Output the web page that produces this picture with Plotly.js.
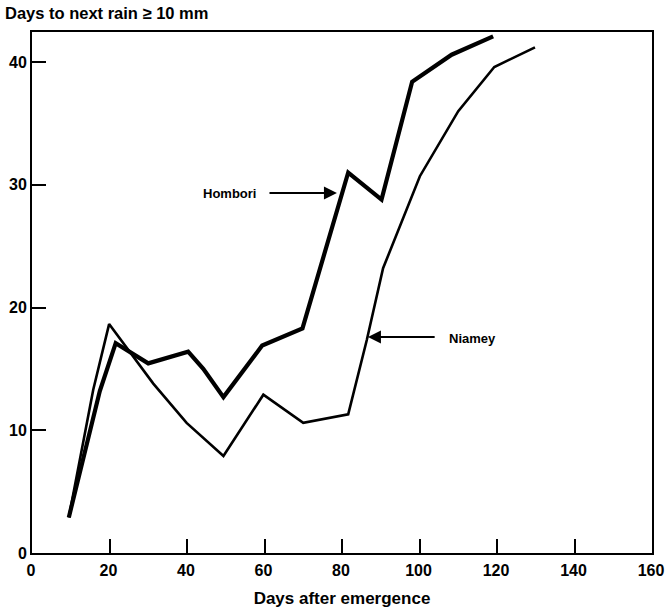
<!DOCTYPE html>
<html>
<head>
<meta charset="utf-8">
<script src="https://cdn.plot.ly/plotly-3.0.1.min.js"></script>
<style>html,body{margin:0;padding:0;background:#fff;}#chart{width:665px;height:610px;}</style>
</head>
<body>
<div id="chart"></div>
<script>
// Days after emergence (x) and days to next rain >= 10 mm (y)
const homboriDays = [9.5, 17.5, 21.6, 30.0, 40.3, 44.2, 49.4, 59.4, 69.8, 81.6, 90.2, 98.1, 108.3, 119.0];
const homboriWait = [2.9, 13.2, 17.1, 15.45, 16.4, 15.0, 12.7, 16.9, 18.3, 31.0, 28.8, 38.4, 40.6, 42.1];
const niameyDays = [9.5, 15.8, 19.9, 31.3, 39.9, 49.4, 59.7, 70.0, 81.6, 82.9, 86.4, 90.6, 100.1, 110.0, 119.3, 129.8];
const niameyWait = [2.9, 13.3, 18.65, 13.8, 10.6, 7.9, 12.9, 10.6, 11.3, 13.0, 17.35, 23.2, 30.7, 36.0, 39.6, 41.2];
const xTicks = [0, 20, 40, 60, 80, 100, 120, 140, 160];
const yTicks = [0, 10, 20, 30, 40];
const labels = ["Hombori", "Niamey"];

const font = {family: "Liberation Sans, Arial, sans-serif", color: "#000"};

const traces = [
  {x: homboriDays, y: homboriWait, mode: "lines", name: labels[0],
   line: {color: "#000", width: 4.2}},
  {x: niameyDays, y: niameyWait, mode: "lines", name: labels[1],
   line: {color: "#000", width: 2.6}}
];

const layout = {
  width: 665, height: 610,
  margin: {l: 32, r: 13, t: 32, b: 57},
  paper_bgcolor: "#fff", plot_bgcolor: "#fff",
  showlegend: false,
  font: Object.assign({size: 15}, font),
  title: {text: "<b>Days to next rain ≥ 10 mm</b>", x: 0.0075, xanchor: "left",
          xref: "container", yref: "container", y: 0.978, yanchor: "middle",
          font: Object.assign({size: 16.5}, font)},
  xaxis: {range: [0, 160], tickvals: xTicks, ticktext: xTicks.map(v => "<b>" + v + "</b>"),
          ticks: "inside", ticklen: 14, tickwidth: 2, tickcolor: "#000",
          showline: true, linewidth: 2, linecolor: "#000", mirror: true,
          showgrid: false, zeroline: false, fixedrange: true, ticklabelstandoff: 2,
          ticklabeloverflow: "allow", ticklabelshift: -1,
          tickfont: Object.assign({size: 16}, font),
          title: {text: "<b>Days after emergence</b>", standoff: 14, font: Object.assign({size: 17}, font)}},
  yaxis: {range: [0, 42.45], tickvals: yTicks, ticktext: yTicks.map(v => "<b>" + v + "</b>"),
          ticks: "inside", ticklen: 14, tickwidth: 2, tickcolor: "#000",
          showline: true, linewidth: 2, linecolor: "#000", mirror: true,
          showgrid: false, zeroline: false, fixedrange: true, ticklabelstandoff: 0,
          tickfont: Object.assign({size: 16}, font)},
  annotations: [
    {x: 78.7, y: 29.33, xref: "x", yref: "y", ax: 60.9, ay: 29.33, axref: "x", ayref: "y",
     text: "", showarrow: true, arrowhead: 2, arrowsize: 1.3, arrowwidth: 2, arrowcolor: "#000"},
    {x: 86.7, y: 17.6, xref: "x", yref: "y", ax: 104.3, ay: 17.6, axref: "x", ayref: "y",
     text: "", showarrow: true, arrowhead: 2, arrowsize: 1.3, arrowwidth: 2, arrowcolor: "#000"},
    {x: 58.3, y: 29.33, xref: "x", yref: "y", text: "<b>" + labels[0] + "</b>", showarrow: false,
     xanchor: "right", yanchor: "middle", font: Object.assign({size: 13}, font)},
    {x: 107.1, y: 17.5, xref: "x", yref: "y", text: "<b>" + labels[1] + "</b>", showarrow: false,
     xanchor: "left", yanchor: "middle", font: Object.assign({size: 13}, font)}
  ]
};

Plotly.newPlot("chart", traces, layout, {displayModeBar: false, staticPlot: true});
</script>
</body>
</html>
